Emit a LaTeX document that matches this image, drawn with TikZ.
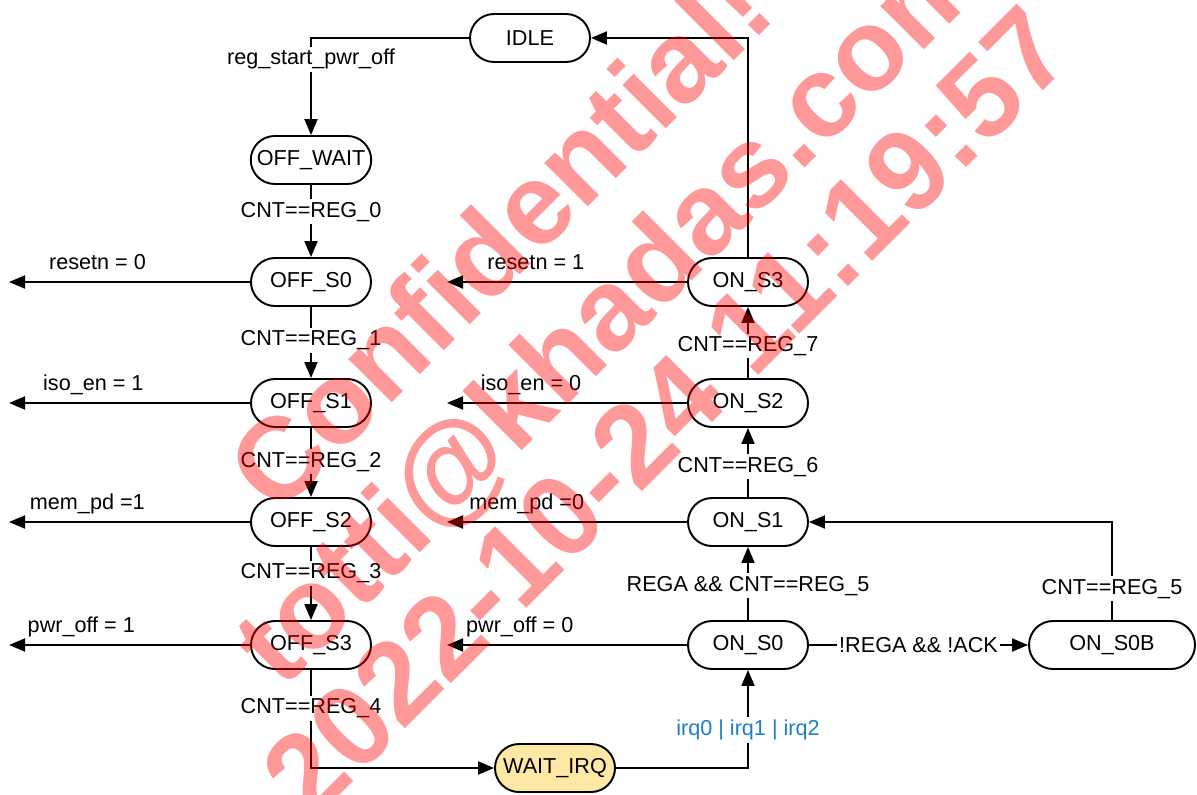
\documentclass[tikz,border=0pt]{standalone}
\usepackage{fontspec}
\setmainfont{Liberation Sans}
\usetikzlibrary{arrows.meta}
\definecolor{irqBlue}{HTML}{1F7EC1}
\definecolor{waitFill}{HTML}{FFE8A3}
\begin{document}
\begin{tikzpicture}
\tikzset{
    pwrState/.style={rectangle,rounded corners=0.48cm,draw=black,line width=1.1pt,minimum width=2.4cm,minimum height=0.96cm,inner xsep=0.12cm,align=center,font=\fontsize{12.3}{14}\selectfont},
    pwrEdge/.style={line width=1.1pt,-{Triangle[length=0.32cm,width=0.26cm]}},
    pwrCond/.style={fill=white,inner sep=1.5pt,font=\fontsize{12.3}{14}\selectfont},
    pwrOut/.style={anchor=base,yshift=0.26cm,inner sep=0pt,font=\fontsize{12.3}{14}\selectfont},
    pwrMark/.style={rotate=45,anchor=base,text=red,text opacity=0.4,inner sep=0pt,font=\fontsize{66}{76}\selectfont\bfseries},
}
\useasboundingbox (0,0) rectangle (23.94,-15.88);

\node[pwrState] (idle) at (10.6,-0.76) {IDLE};
\node[pwrState] (offwait) at (6.22,-3.2) {OFF\_WAIT};
\node[pwrState] (offs0) at (6.22,-5.64) {OFF\_S0};
\node[pwrState] (offs1) at (6.22,-8.06) {OFF\_S1};
\node[pwrState] (offs2) at (6.22,-10.44) {OFF\_S2};
\node[pwrState] (offs3) at (6.22,-12.9) {OFF\_S3};
\node[pwrState,fill=waitFill] (waitirq) at (11.1,-15.36) {WAIT\_IRQ};

\node[pwrState] (ons3) at (14.96,-5.64) {ON\_S3};
\node[pwrState] (ons2) at (14.96,-8.06) {ON\_S2};
\node[pwrState] (ons1) at (14.96,-10.44) {ON\_S1};
\node[pwrState] (ons0) at (14.96,-12.9) {ON\_S0};
\node[pwrState,minimum width=3.32cm] (ons0b) at (22.24,-12.9) {ON\_S0B};

\coordinate (rstOff) at (0.18,-5.64);
\coordinate (isoOff) at (0.18,-8.06);
\coordinate (memOff) at (0.18,-10.44);
\coordinate (pwrOff) at (0.18,-12.9);
\coordinate (rstOn) at (8.94,-5.64);
\coordinate (isoOn) at (8.94,-8.06);
\coordinate (memOn) at (8.94,-10.44);
\coordinate (pwrOn) at (8.94,-12.9);

\draw[pwrEdge] (idle.west) -| node[pwrCond,pos=0.61] {reg\_start\_pwr\_off} (offwait.north);
\draw[pwrEdge] (offwait) -- node[pwrCond,pos=0.37] {CNT==REG\_0} (offs0);
\draw[pwrEdge] (offs0) -- node[pwrCond,pos=0.47] {CNT==REG\_1} (offs1);
\draw[pwrEdge] (offs1) -- node[pwrCond,pos=0.49] {CNT==REG\_2} (offs2);
\draw[pwrEdge] (offs2) -- node[pwrCond,pos=0.36] {CNT==REG\_3} (offs3);
\draw[pwrEdge] (offs3.south) |- node[pwrCond,pos=0.195] {CNT==REG\_4} (waitirq.west);
\draw[pwrEdge] (waitirq.east) -| node[pwrCond,pos=0.695,text=irqBlue] {irq0 | irq1 | irq2} (ons0.south);
\draw[pwrEdge] (ons0) -- node[pwrCond,pos=0.47] {REGA \&\& CNT==REG\_5} (ons1);
\draw[pwrEdge] (ons0) -- node[pwrCond,pos=0.5] {!REGA \&\& !ACK} (ons0b);
\draw[pwrEdge] (ons0b.north) |- node[pwrCond,pos=0.16] {CNT==REG\_5} (ons1.east);
\draw[pwrEdge] (ons1) -- node[pwrCond,pos=0.44] {CNT==REG\_6} (ons2);
\draw[pwrEdge] (ons2) -- node[pwrCond,pos=0.45] {CNT==REG\_7} (ons3);
\draw[pwrEdge] (ons3.north) |- (idle.east);

\draw[pwrEdge] (offs0.west) -- node[pwrOut,pos=0.633] {resetn = 0} (rstOff);
\draw[pwrEdge] (offs1.west) -- node[pwrOut,pos=0.65] {iso\_en = 1} (isoOff);
\draw[pwrEdge] (offs2.west) -- node[pwrOut,pos=0.675] {mem\_pd =1} (memOff);
\draw[pwrEdge] (offs3.west) -- node[pwrOut,pos=0.70] {pwr\_off = 1} (pwrOff);
\draw[pwrEdge] (ons3.west) -- node[pwrOut,pos=0.63] {resetn = 1} (rstOn);
\draw[pwrEdge] (ons2.west) -- node[pwrOut,pos=0.65] {iso\_en = 0} (isoOn);
\draw[pwrEdge] (ons1.west) -- node[pwrOut,pos=0.668] {mem\_pd =0} (memOn);
\draw[pwrEdge] (ons0.west) -- node[pwrOut,pos=0.697] {pwr\_off = 0} (pwrOn);

\node[pwrMark] (markA) at (10.56,-5.34) {Confidential!};
\node[pwrMark] (markB) at (12.73,-6.73) {totti@khadas.com};
\node[pwrMark] (markC) at (13.89,-8.80) {2022-10-24 11:19:57};
\end{tikzpicture}
\end{document}
